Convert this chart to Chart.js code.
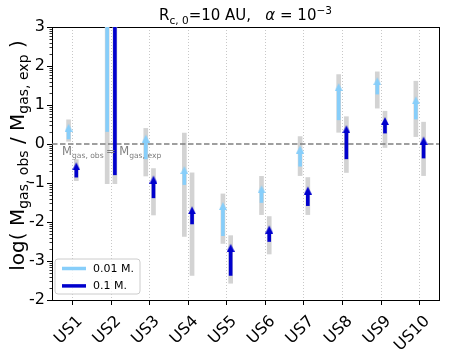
<!DOCTYPE html>
<html><head><meta charset="utf-8">
<script src="https://cdn.jsdelivr.net/npm/chart.js@4/dist/chart.umd.min.js"></script>
<style>html,body{margin:0;padding:0;background:#fff}#wrap{width:449px;height:360px;position:relative}</style>
</head><body><div id="wrap"><canvas id="c"></canvas></div>
<script>
// ---- data ----
const categories = ['US1','US2','US3','US4','US5','US6','US7','US8','US9','US10'];
const yTickValues = [-4,-3,-2,-1,0,1,2,3];
const yTickLabels = ['-2','-3','-2','-1','0','1','2','3'];
const seriesLabels = ['0.01 M.', '0.1 M.'];

// 0.01 Msun series
const lightRangeLow  = [0.07,-1.02,-0.82,-2.37,-2.55,-1.81,-0.81,0.30,0.92,0.19];
const lightRangeHigh = [0.62, 3.60, 0.40, 0.28,-1.28,-0.83, 0.19,1.78,1.85,1.61];
const lightArrowLow  = [0.13, 0.32,-0.38,-1.04,-2.35,-1.50,-0.57,0.62,1.28,0.64];
const lightArrowTip  = [0.52, 3.60, 0.24,-0.57,-1.49,-1.06,-0.04,1.56,1.71,1.22];
// 0.1 Msun series
const darkRangeLow   = [-0.94,-1.02,-1.82,-3.37,-3.57,-2.82,-1.81,-0.73,-0.09,-0.81];
const darkRangeHigh  = [-0.40, 3.60,-0.63,-0.74,-2.35,-1.86,-0.86, 0.70, 0.84, 0.56];
const darkArrowLow   = [-0.85,-0.79,-1.38,-2.05,-3.37,-2.50,-1.58,-0.38, 0.28,-0.36];
const darkArrowTip   = [-0.47, 3.60,-0.81,-1.60,-2.56,-2.09,-1.09, 0.48, 0.69, 0.19];
const refLevel = 0;

// ---- layout / style constants ----
const X_MIN = 0.47, X_MAX = 10.5, Y_MIN = -4, Y_MAX = 3;
const OFFSET = 0.1;
const HEAD = 0.15;
const FONT = '"DejaVu Sans", sans-serif';
const LIGHT = '#87cefa', DARK = '#0000cd', GRAY = '#d3d3d3';

const xs = categories.map((_, i) => i + 1);
const ranges = (dx, lo, hi) => xs.map((x, i) => ({x: x + dx, y: [lo[i], hi[i]]}));
const tips = (dx, t) => xs.map((x, i) => ({x: x + dx, y: t[i]}));

function arrowHead(color) {
  const w = 8, h = 16, c = document.createElement('canvas');
  c.width = w; c.height = h;
  const g = c.getContext('2d');
  g.fillStyle = color;
  g.beginPath(); g.moveTo(w / 2, h / 2); g.lineTo(w, h); g.lineTo(0, h); g.closePath(); g.fill();
  return c;
}

function drawRich(ctx, parts, x, y, align) {
  let total = 0;
  const ws = parts.map(p => { ctx.font = (p.it ? 'italic ' : '') + p.s + 'px ' + FONT; const w = ctx.measureText(p.t).width; total += w; return w; });
  let cx = align === 'center' ? x - total / 2 : x;
  ctx.textAlign = 'left'; ctx.textBaseline = 'alphabetic';
  parts.forEach((p, i) => { ctx.font = (p.it ? 'italic ' : '') + p.s + 'px ' + FONT; ctx.fillText(p.t, cx, y + (p.dy || 0)); cx += ws[i]; });
}

const decorations = {
  id: 'decorations',
  afterDraw(chart) {
    const ctx = chart.ctx, ca = chart.chartArea, ys = chart.scales.y, xsScale = chart.scales.x;
    ctx.save();
    // minor ticks on the y axis
    ctx.strokeStyle = '#000'; ctx.lineWidth = 0.8;
    for (let n = Y_MIN; n < Y_MAX; n++) {
      for (let k = 2; k <= 9; k++) {
        const py = Math.round(ys.getPixelForValue(n + Math.log10(k))) + 0.5;
        ctx.beginPath(); ctx.moveTo(ca.left - 2.5, py); ctx.lineTo(ca.left, py); ctx.stroke();
      }
    }
    ctx.fillStyle = '#000';
    // title
    drawRich(ctx, [
      {t: 'R', s: 15}, {t: 'c, 0', s: 10.5, dy: 3.5}, {t: '=10 AU,   ', s: 15},
      {t: 'α', s: 15, it: true}, {t: ' = 10', s: 15}, {t: '−3', s: 10.5, dy: -6}
    ], (ca.left + ca.right) / 2, 20, 'center');
    // y axis title
    ctx.save();
    ctx.translate(24, (ca.top + ca.bottom) / 2 - 8);
    ctx.rotate(-Math.PI / 2);
    drawRich(ctx, [
      {t: 'log( M', s: 20}, {t: 'gas, obs', s: 14, dy: 4}, {t: ' / M', s: 20},
      {t: 'gas, exp', s: 14, dy: 4}, {t: ' )', s: 20}
    ], 0, 0, 'center');
    ctx.restore();
    // annotation of the reference line
    ctx.fillStyle = '#808080';
    drawRich(ctx, [
      {t: 'M', s: 11.5}, {t: 'gas, obs', s: 7.6, dy: 2.6}, {t: '\u2009= ', s: 11.5},
      {t: 'M', s: 11.5}, {t: 'gas, exp', s: 7.6, dy: 2.6}
    ], xsScale.getPixelForValue(0.73), ys.getPixelForValue(-0.29), 'left');
    // legend
    const lx = ca.left + 3, ly = ca.bottom - 41, lw = 85, lh = 35, r = 3;
    ctx.fillStyle = 'rgba(255,255,255,0.8)'; ctx.strokeStyle = '#cccccc'; ctx.lineWidth = 1;
    ctx.beginPath();
    ctx.moveTo(lx + r, ly); ctx.lineTo(lx + lw - r, ly); ctx.arcTo(lx + lw, ly, lx + lw, ly + r, r);
    ctx.lineTo(lx + lw, ly + lh - r); ctx.arcTo(lx + lw, ly + lh, lx + lw - r, ly + lh, r);
    ctx.lineTo(lx + r, ly + lh); ctx.arcTo(lx, ly + lh, lx, ly + lh - r, r);
    ctx.lineTo(lx, ly + r); ctx.arcTo(lx, ly, lx + r, ly, r); ctx.closePath();
    ctx.fill(); ctx.stroke();
    const entries = chart.data.datasets.filter(d => d.legend);
    entries.forEach((d, i) => {
      const yy = ly + 9.5 + i * 17.4;
      ctx.strokeStyle = d.backgroundColor; ctx.lineWidth = 3.5;
      ctx.beginPath(); ctx.moveTo(lx + 7, yy); ctx.lineTo(lx + 31, yy); ctx.stroke();
      ctx.fillStyle = '#000'; ctx.font = '11px ' + FONT; ctx.textBaseline = 'middle'; ctx.textAlign = 'left';
      ctx.fillText(d.label, lx + 38, yy + 0.5);
    });
    ctx.restore();
  }
};

Chart.defaults.font.family = FONT;
const barBase = {type: 'bar', grouped: false, borderWidth: 0};

new Chart(document.getElementById('c'), {
  type: 'scatter',
  data: {
    datasets: [
      {...barBase, label: 'range light', data: ranges(-OFFSET, lightRangeLow, lightRangeHigh), backgroundColor: GRAY, barThickness: 4, maxBarThickness: 4, order: 10},
      {...barBase, label: 'range dark', data: ranges(OFFSET, darkRangeLow, darkRangeHigh), backgroundColor: GRAY, barThickness: 4, maxBarThickness: 4, order: 10},
      {type: 'line', label: 'ref', data: [{x: X_MIN, y: refLevel}, {x: X_MAX, y: refLevel}], borderColor: '#808080', borderWidth: 1.5, borderDash: [5.5, 2.5], pointRadius: 0, order: 5},
      {...barBase, label: seriesLabels[0], legend: true, data: ranges(-OFFSET, lightArrowLow, lightArrowTip.map(v => v - HEAD)), backgroundColor: LIGHT, barThickness: 3, maxBarThickness: 3, order: 3},
      {...barBase, label: seriesLabels[1], legend: true, data: ranges(OFFSET, darkArrowLow, darkArrowTip.map(v => v - HEAD)), backgroundColor: DARK, barThickness: 3, maxBarThickness: 3, order: 3},
      {type: 'scatter', label: 'head light', data: tips(-OFFSET, lightArrowTip), pointStyle: arrowHead(LIGHT), pointRadius: 5, order: 1},
      {type: 'scatter', label: 'head dark', data: tips(OFFSET, darkArrowTip), pointStyle: arrowHead(DARK), pointRadius: 5, order: 1}
    ]
  },
  options: {
    responsive: true, maintainAspectRatio: false, animation: false, devicePixelRatio: 1,
    layout: {padding: {left: 0, right: 10, top: 27, bottom: 0}},
    plugins: {legend: {display: false}, tooltip: {enabled: false}, title: {display: false}},
    scales: {
      x: {
        type: 'linear', position: 'bottom', min: X_MIN, max: X_MAX, offset: false, bounds: 'data',
        afterBuildTicks: s => { s.ticks = xs.map(v => ({value: v})); },
        afterFit: s => { s.height = 60; },
        ticks: {autoSkip: false, minRotation: 45, maxRotation: 45, color: '#000', font: {size: 16}, padding: 7, labelOffset: 7.5,
                callback: v => categories[v - 1]},
        grid: {offset: false, color: '#c8c8c8', lineWidth: 1, tickColor: '#000', tickLength: 5, drawOnChartArea: true},
        border: {color: '#000', width: 1, dash: [1, 2]}
      },
      y: {
        type: 'linear', position: 'left', min: Y_MIN, max: Y_MAX,
        afterBuildTicks: s => { s.ticks = yTickValues.map(v => ({value: v})); },
        afterFit: s => { s.width = 52; },
        ticks: {color: '#000', font: {size: 16}, padding: 2,
                callback: v => yTickLabels[yTickValues.indexOf(v)]},
        grid: {drawOnChartArea: false, tickColor: '#000', tickLength: 5},
        border: {color: '#000', width: 1}
      },
      xTop: {
        type: 'linear', position: 'top', display: true,
        afterFit: s => { s.height = 0; },
        ticks: {display: false}, grid: {drawOnChartArea: false, drawTicks: false},
        border: {color: '#000', width: 1}
      },
      yRight: {
        type: 'linear', position: 'right', display: true,
        afterFit: s => { s.width = 0; },
        ticks: {display: false}, grid: {drawOnChartArea: false, drawTicks: false},
        border: {color: '#000', width: 1}
      }
    }
  },
  plugins: [decorations]
});
</script>
</body></html>
